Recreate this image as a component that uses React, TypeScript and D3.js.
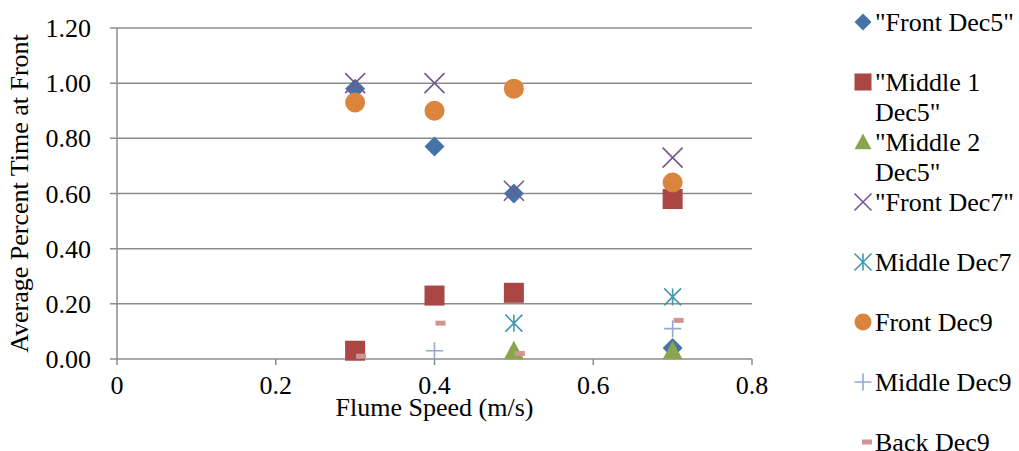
import React from 'react';
import * as d3 from 'd3';

// flume speeds (m/s) used on the x axis
const speeds = [0.3, 0.4, 0.5, 0.7];

// series values (null = no point shown)
const frontDec5 = [0.98, 0.77, 0.6, 0.04];
const middle1Dec5 = [0.03, 0.23, 0.24, 0.58];
const middle2Dec5 = [null, null, 0.03, 0.03];
const frontDec7 = [1.0, 1.0, 0.61, 0.73];
const middleDec7 = [null, null, 0.13, 0.225];
const frontDec9 = [0.93, 0.9, 0.98, 0.64];
const middleDec9 = [null, 0.03, null, 0.11];
const backDec9 = [0.01, 0.13, 0.02, 0.14];

const seriesNames = [
  ['"Front Dec5"'],
  ['"Middle 1', 'Dec5"'],
  ['"Middle 2', 'Dec5"'],
  ['"Front Dec7"'],
  ['Middle Dec7'],
  ['Front Dec9'],
  ['Middle Dec9'],
  ['Back Dec9'],
];

const yTicks = [0, 0.2, 0.4, 0.6, 0.8, 1.0, 1.2];
const xTicks = [0, 0.2, 0.4, 0.6, 0.8];

type Shape = 'diamond' | 'square' | 'triangle' | 'x' | 'star' | 'circle' | 'plus' | 'dash';

const series: { values: (number | null)[]; shape: Shape; color: string }[] = [
  { values: frontDec5, shape: 'diamond', color: '#4572A7' },
  { values: middle1Dec5, shape: 'square', color: '#AA4643' },
  { values: middle2Dec5, shape: 'triangle', color: '#89A54E' },
  { values: frontDec7, shape: 'x', color: '#71588F' },
  { values: middleDec7, shape: 'star', color: '#4198AF' },
  { values: frontDec9, shape: 'circle', color: '#DB843D' },
  { values: middleDec9, shape: 'plus', color: '#93A9CF' },
  { values: backDec9, shape: 'dash', color: '#D09493' },
];

const FONT = "'Liberation Serif', 'Times New Roman', Times, 'DejaVu Serif', serif";
const FS = 26;

function Marker({ shape, color, cx, cy, s }: { shape: Shape; color: string; cx: number; cy: number; s: number }) {
  const h = s / 2;
  switch (shape) {
    case 'diamond':
      return <path d={`M${cx},${cy - h}L${cx + h},${cy}L${cx},${cy + h}L${cx - h},${cy}Z`} fill={color} />;
    case 'square':
      return <rect x={cx - h} y={cy - h} width={s} height={s} fill={color} />;
    case 'triangle':
      return <path d={`M${cx},${cy - h}L${cx + h},${cy + h * 0.85}L${cx - h},${cy + h * 0.85}Z`} fill={color} />;
    case 'circle':
      return <circle cx={cx} cy={cy} r={h} fill={color} />;
    case 'x':
      return (
        <path d={`M${cx - h},${cy - h}L${cx + h},${cy + h}M${cx + h},${cy - h}L${cx - h},${cy + h}`} stroke={color} strokeWidth={1.6} />
      );
    case 'star':
      return (
        <path
          d={`M${cx - h},${cy - h}L${cx + h},${cy + h}M${cx + h},${cy - h}L${cx - h},${cy + h}M${cx},${cy - h}L${cx},${cy + h}`}
          stroke={color}
          strokeWidth={1.6}
        />
      );
    case 'plus':
      return <path d={`M${cx - h},${cy}L${cx + h},${cy}M${cx},${cy - h}L${cx},${cy + h}`} stroke={color} strokeWidth={1.6} />;
    case 'dash':
      return <rect x={cx + 1} y={cy - 2.5} width={10} height={5} fill={color} />;
  }
}

export default function App() {
  const width = 1019;
  const height = 451;
  const margin = { left: 117, right: 267, top: 28, bottom: 92 };

  const x = d3.scaleLinear().domain([0, 0.8]).range([margin.left, width - margin.right]);
  const y = d3.scaleLinear().domain([0, 1.2]).range([height - margin.bottom, margin.top]);

  const grid = '#8c8c8c';
  const txt = { fontFamily: FONT, fontSize: FS };

  return (
    <svg width={width} height={height} style={{ position: 'absolute', left: 0, top: 0, background: '#fff' }}>
      {/* horizontal gridlines */}
      {yTicks.map((t) => (
        <line key={t} x1={x(0) - 7} x2={x(0.8)} y1={y(t)} y2={y(t)} stroke={grid} strokeWidth={1.5} />
      ))}
      {/* y axis */}
      <line x1={x(0)} x2={x(0)} y1={y(1.2)} y2={y(0)} stroke={grid} strokeWidth={1.5} />
      {yTicks.map((t) => (
        <text key={t} x={x(0) - 26} y={y(t)} dy="0.35em" textAnchor="end" style={txt}>
          {t.toFixed(2)}
        </text>
      ))}
      {/* x ticks */}
      {xTicks.map((t) => (
        <g key={t}>
          <line x1={x(t)} x2={x(t)} y1={y(0)} y2={y(0) + 6} stroke={grid} strokeWidth={1.5} />
          <text x={x(t)} y={y(0) + 35} textAnchor="middle" style={txt}>
            {t}
          </text>
        </g>
      ))}
      <text x={(x(0) + x(0.8)) / 2} y={416} textAnchor="middle" style={txt}>
        Flume Speed (m/s)
      </text>
      <text transform={`translate(28,${(y(0) + y(1.2)) / 2}) rotate(-90)`} textAnchor="middle" style={txt}>
        Average Percent Time at Front
      </text>

      {/* points */}
      {series.map((s, i) => (
        <g key={i}>
          {s.values.map((v, j) =>
            v === null ? null : <Marker key={j} shape={s.shape} color={s.color} cx={x(speeds[j])} cy={y(v)} s={s.shape === 'star' || s.shape === 'plus' ? 17 : 20} />
          )}
        </g>
      ))}

      {/* legend */}
      {series.map((s, i) => {
        const ly = 22 + i * 60;
        return (
          <g key={i}>
            <Marker shape={s.shape} color={s.color} cx={s.shape === 'dash' ? 861 : 863} cy={ly} s={17} />
            {seriesNames[i].map((line, k) => (
              <text key={k} x={875} y={ly + k * 30} dy="0.35em" style={txt}>
                {line}
              </text>
            ))}
          </g>
        );
      })}
    </svg>
  );
}
